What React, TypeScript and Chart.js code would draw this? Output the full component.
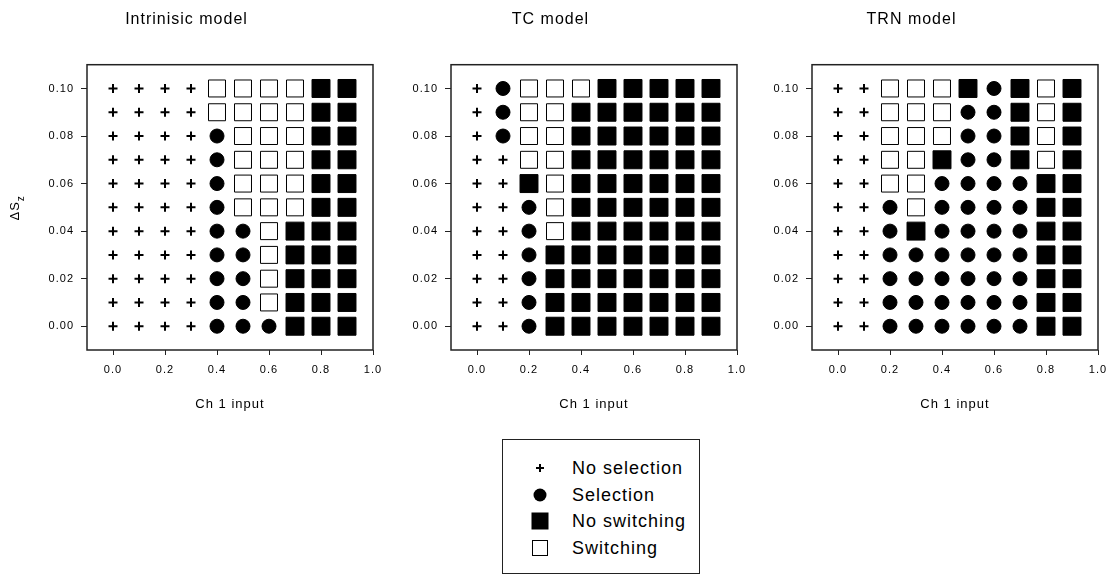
import React, { useEffect, useRef } from "react";
import { Chart, registerables } from "chart.js";

Chart.register(...registerables);

// ---- data ----
const xCategories = [0, 0.1, 0.2, 0.3, 0.4, 0.5, 0.6, 0.7, 0.8, 0.9];
const yLevels = [0.1, 0.09, 0.08, 0.07, 0.06, 0.05, 0.04, 0.03, 0.02, 0.01, 0.0];
const xTicks = [0, 0.2, 0.4, 0.6, 0.8, 1.0];
const yTicks = [0, 0.02, 0.04, 0.06, 0.08, 0.1];

// P = no selection, C = selection, F = no switching, O = switching
// rows follow yLevels (top to bottom), columns follow xCategories
const intrinsicGrid = [
  "PPPPOOOOFF",
  "PPPPOOOOFF",
  "PPPPCOOOFF",
  "PPPPCOOOFF",
  "PPPPCOOOFF",
  "PPPPCOOOFF",
  "PPPPCCOFFF",
  "PPPPCCOFFF",
  "PPPPCCOFFF",
  "PPPPCCOFFF",
  "PPPPCCCFFF",
];
const tcGrid = [
  "PCOOOFFFFF",
  "PCOOFFFFFF",
  "PCOOFFFFFF",
  "PPOOFFFFFF",
  "PPFOFFFFFF",
  "PPCOFFFFFF",
  "PPCOFFFFFF",
  "PPCFFFFFFF",
  "PPCFFFFFFF",
  "PPCFFFFFFF",
  "PPCFFFFFFF",
];
const trnGrid = [
  "PPOOOFCFOF",
  "PPOOOCCFOF",
  "PPOOOCCFOF",
  "PPOOFCCFOF",
  "PPOOCCCCFF",
  "PPCOCCCCFF",
  "PPCFCCCCFF",
  "PPCCCCCCFF",
  "PPCCCCCCFF",
  "PPCCCCCCFF",
  "PPCCCCCCFF",
];

const panelTitles = ["Intrinisic model", "TC model", "TRN model"];
const xAxisTitle = "Ch 1 input";
const legendLabels = ["No selection", "Selection", "No switching", "Switching"];
const categoryCodes = ["P", "C", "F", "O"];

const FONT = "'Liberation Sans', Arial, sans-serif";
const CANVAS_W = 400;
const CANVAS_H = 420;
const AXIS_W = 87;
const AREA_W = 286;

function pointsFor(grid: string[], code: string) {
  const pts: { x: number; y: number }[] = [];
  grid.forEach((row, r) => {
    row.split("").forEach((c, k) => {
      if (c === code) pts.push({ x: xCategories[k], y: yLevels[r] });
    });
  });
  return pts;
}

const styleFor: Record<string, any> = {
  P: { pointStyle: "cross", pointRadius: 4.5, borderWidth: 2, borderColor: "#000", backgroundColor: "#000" },
  C: { pointStyle: "circle", pointRadius: 7, borderWidth: 1, borderColor: "#000", backgroundColor: "#000" },
  F: { pointStyle: "rect", pointRadius: 12.7, borderWidth: 1, borderColor: "#000", backgroundColor: "#000" },
  O: { pointStyle: "rect", pointRadius: 12, borderWidth: 1, borderColor: "#000", backgroundColor: "#fff" },
};

const spacingPlugin = {
  id: "spacing",
  beforeUpdate(chart: any) {
    chart.ctx.letterSpacing = "1px";
  },
  beforeLayout(chart: any) {
    chart.ctx.letterSpacing = "1px";
  },
  beforeDraw(chart: any) {
    chart.ctx.letterSpacing = "1px";
  },
};

const framePlugin = {
  id: "frame",
  beforeDatasetsDraw(chart: any) {
    const { ctx, chartArea } = chart;
    ctx.save();
    ctx.strokeStyle = "#222";
    ctx.lineWidth = 1.5;
    ctx.strokeRect(chartArea.left, chartArea.top, chartArea.right - chartArea.left, chartArea.bottom - chartArea.top);
    ctx.restore();
  },
};

const yTitlePlugin = {
  id: "yTitle",
  afterDraw(chart: any, _args: any, opts: any) {
    if (!opts || !opts.show) return;
    const { ctx, chartArea } = chart;
    ctx.save();
    ctx.letterSpacing = "1px";
    ctx.fillStyle = "#000";
    ctx.translate(16, (chartArea.top + chartArea.bottom) / 2);
    ctx.rotate(-Math.PI / 2);
    ctx.font = `13px ${FONT}`;
    ctx.textBaseline = "middle";
    const main = "ΔS";
    const w = ctx.measureText(main).width;
    const total = w + 7;
    ctx.textAlign = "left";
    ctx.fillText(main, -total / 2, -1);
    ctx.font = `10px ${FONT}`;
    ctx.fillText("z", -total / 2 + w, 5);
    ctx.restore();
  },
};

function Panel({ grid, title, left, showY }: { grid: string[]; title: string; left: number; showY: boolean }) {
  const ref = useRef<HTMLCanvasElement>(null);
  useEffect(() => {
    const canvas = ref.current!;
    const datasets = categoryCodes.map((code, i) => ({
      label: legendLabels[i],
      data: pointsFor(grid, code),
      ...styleFor[code],
      pointHoverRadius: styleFor[code].pointRadius,
      showLine: false,
    }));
    const chart = new Chart(canvas, {
      type: "scatter",
      data: { datasets },
      plugins: [spacingPlugin, framePlugin, yTitlePlugin],
      options: {
        animation: false,
        responsive: false,
        maintainAspectRatio: false,
        events: [],
        layout: { padding: { left: 0, right: CANVAS_W - AXIS_W - AREA_W, top: 0, bottom: 0 } },
        plugins: {
          legend: { display: false },
          tooltip: { enabled: false },
          title: {
            display: true,
            text: title,
            color: "#000",
            font: { family: FONT, size: 16, weight: "normal" },
            padding: { top: 10, bottom: 35.5 },
          },
          yTitle: { show: showY },
        } as any,
        scales: {
          x: {
            type: "linear",
            min: -0.1,
            max: 1.0,
            afterBuildTicks: (s: any) => {
              s.ticks = xTicks.map((v) => ({ value: v }));
            },
            afterFit: (s: any) => {
              s.height = 70;
              s.paddingLeft = 0;
              s.paddingRight = 0;
            },
            border: { display: false },
            grid: { drawOnChartArea: false, drawTicks: true, tickLength: 5, color: "#222", lineWidth: 1 },
            ticks: {
              color: "#000",
              font: { family: FONT, size: 11 },
              padding: 8,
              maxRotation: 0,
              autoSkip: false,
              callback: (v: any) => Number(v).toFixed(1),
            },
            title: {
              display: true,
              text: xAxisTitle,
              color: "#000",
              font: { family: FONT, size: 13 },
              padding: { top: 0, bottom: 8 },
            },
          },
          y: {
            type: "linear",
            min: -0.01,
            max: 0.11,
            afterBuildTicks: (s: any) => {
              s.ticks = yTicks.map((v) => ({ value: v }));
            },
            afterFit: (s: any) => {
              s.width = AXIS_W;
              s.paddingTop = 0;
              s.paddingBottom = 0;
            },
            border: { display: false },
            grid: { drawOnChartArea: false, drawTicks: true, tickLength: 6, color: "#222", lineWidth: 1 },
            ticks: {
              color: "#000",
              font: { family: FONT, size: 11 },
              padding: 7,
              autoSkip: false,
              callback: (v: any) => Number(v).toFixed(2),
            },
          },
        },
      } as any,
    });
    return () => chart.destroy();
  }, [grid, title, showY]);
  return (
    <canvas
      ref={ref}
      width={CANVAS_W}
      height={CANVAS_H}
      style={{ position: "absolute", left, top: 0, width: CANVAS_W, height: CANVAS_H }}
    />
  );
}

function LegendSymbol({ code }: { code: string }) {
  if (code === "P") {
    return (
      <div style={{ position: "relative", width: 8, height: 8 }}>
        <div style={{ position: "absolute", left: 0, top: 3, width: 8, height: 2, background: "#000" }} />
        <div style={{ position: "absolute", left: 3, top: 0, width: 2, height: 8, background: "#000" }} />
      </div>
    );
  }
  if (code === "C") return <div style={{ width: 13, height: 13, borderRadius: "50%", background: "#000" }} />;
  if (code === "F") return <div style={{ width: 17, height: 17, background: "#000" }} />;
  return <div style={{ width: 16, height: 16, border: "1px solid #000", boxSizing: "border-box", background: "#fff" }} />;
}

export default function App() {
  const rowY = [28, 55, 81, 108];
  return (
    <div style={{ position: "absolute", left: 0, top: 0, width: 1106, height: 575, background: "#fff", overflow: "hidden" }}>
      <Panel grid={intrinsicGrid} title={panelTitles[0]} left={0} showY={true} />
      <Panel grid={tcGrid} title={panelTitles[1]} left={364} showY={false} />
      <Panel grid={trnGrid} title={panelTitles[2]} left={725} showY={false} />
      <div
        style={{
          position: "absolute",
          left: 502,
          top: 439,
          width: 198,
          height: 135,
          border: "1px solid #222",
          boxSizing: "border-box",
          fontFamily: FONT,
          fontSize: 18,
          letterSpacing: "1px",
          color: "#000",
        }}
      >
        {categoryCodes.map((code, i) => (
          <React.Fragment key={code}>
            <div
              style={{
                position: "absolute",
                left: 37,
                top: rowY[i],
                transform: "translate(-50%, -50%)",
              }}
            >
              <LegendSymbol code={code} />
            </div>
            <div
              style={{
                position: "absolute",
                left: 69,
                top: rowY[i],
                transform: "translateY(-50%)",
                whiteSpace: "nowrap",
                lineHeight: "20px",
              }}
            >
              {legendLabels[i]}
            </div>
          </React.Fragment>
        ))}
      </div>
    </div>
  );
}
